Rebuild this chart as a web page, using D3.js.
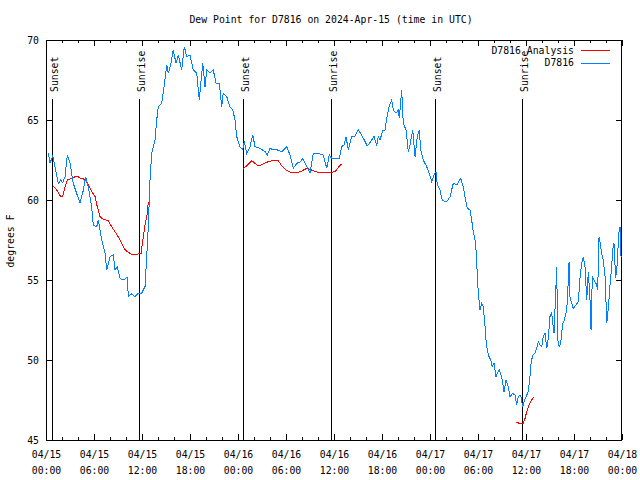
<!DOCTYPE html>
<html>
<head>
<meta charset="utf-8">
<script src="https://cdn.jsdelivr.net/npm/d3@7"></script>
<style>
  html, body { margin: 0; padding: 0; background: #fff; }
  svg { display: block; }
  text { font-family: "DejaVu Sans Mono", "Liberation Mono", monospace; font-size: 11px; fill: #000; }
</style>
</head>
<body>
<svg id="chart" width="640" height="480"></svg>
<script>
// ---------------- DATA ----------------
const titleText = "Dew Point for D7816 on 2024-Apr-15 (time in UTC)";
const yLabel = "degrees F";
const startUTC = Date.UTC(2024, 3, 15, 0, 0);   // 04/15 00:00 UTC
const spanHours = 72;
const yTicks = [45, 50, 55, 60, 65, 70];

// D7816 observations: hours since 04/15 00:00 UTC, dew point (F)
const blueHours = [0.29,0.5,0.84,1.13,1.54,1.84,2.09,2.38,2.66,3.0,3.41,3.84,4.25,4.66,4.96,5.29,5.71,5.91,6.34,6.54,6.96,7.38,7.59,8.0,8.41,8.63,8.91,9.25,9.66,10.16,10.29,10.71,11.13,11.54,11.96,12.38,12.59,12.79,13.0,13.21,13.63,13.84,14.04,14.46,14.75,15.09,15.29,15.59,15.91,16.25,16.54,16.96,17.29,17.59,18.0,18.41,18.84,19.16,19.59,19.88,20.09,20.5,20.91,21.25,21.66,21.96,22.16,22.59,23.0,23.34,23.63,23.84,24.25,24.59,24.79,25.09,25.5,25.84,26.13,26.75,27.38,27.66,28.0,28.41,28.91,29.46,30.09,30.5,30.91,31.34,31.84,32.09,32.38,33.0,33.41,34.04,34.66,35.09,35.41,35.71,35.91,36.66,36.96,37.25,37.5,37.79,38.21,38.63,39.04,39.46,39.88,40.16,40.59,41.0,41.34,41.54,41.75,42.09,42.38,42.59,42.88,43.21,43.41,43.75,44.04,44.16,44.46,44.66,45.0,45.29,45.5,45.84,46.13,46.41,46.66,46.84,47.16,47.59,47.91,48.21,48.5,48.75,48.91,49.25,49.54,50.09,50.5,50.91,51.34,51.84,52.16,52.38,52.66,53.0,53.21,53.41,53.71,53.84,53.96,54.13,54.25,54.46,54.66,54.88,55.0,55.16,55.38,55.59,55.79,56.0,56.25,56.41,56.66,56.96,57.25,57.5,57.79,58.0,58.34,58.63,58.84,59.04,59.34,59.59,59.75,60.0,60.29,60.5,60.63,60.84,61.13,61.34,61.54,61.75,61.96,62.16,62.38,62.59,62.79,63.0,63.21,63.5,63.75,63.84,63.96,64.16,64.34,64.59,64.79,65.0,65.16,65.38,65.5,65.71,65.91,66.25,66.54,66.75,66.96,67.16,67.38,67.59,67.79,68.0,68.13,68.29,68.5,68.75,68.96,69.13,69.25,69.46,69.66,69.88,70.0,70.09,70.29,70.5,70.71,70.84,71.0,71.21,71.41,71.59,71.75,71.88];
const blueValues = [62.92,62.3,62.75,62.08,61.04,61.25,61.08,61.46,62.8,62.3,61.04,60.4,59.8,60.6,61.46,60.83,59.58,58.44,58.33,58.75,57.5,56.67,55.63,56.46,56.56,55.63,55.83,55.1,55.0,55.17,53.96,54.13,53.96,54.17,54.17,54.6,56.46,58.33,61.25,62.9,63.75,65.0,65.83,66.04,67.08,68.44,67.92,68.44,69.38,68.54,69.06,68.13,69.58,68.96,69.06,68.13,67.92,66.25,68.54,67.08,68.13,67.92,68.13,67.3,67.3,65.83,66.67,66.46,65.83,65.63,65.0,63.96,63.33,63.13,63.65,62.92,63.33,64.06,63.33,63.23,63.02,62.81,63.23,63.13,63.13,63.02,63.33,62.81,61.98,62.29,62.4,62.6,62.29,61.67,62.92,62.92,62.81,61.98,62.81,62.6,62.6,62.6,63.33,63.44,63.96,63.13,63.96,64.0,64.38,64.06,63.65,63.38,63.65,64.0,63.38,63.96,63.75,64.33,64.38,65.1,65.83,66.25,65.63,65.42,65.63,65.1,66.88,64.79,64.38,63.02,63.44,64.38,62.71,63.96,64.38,63.13,62.5,62.08,61.67,61.15,61.56,61.77,60.94,60.63,59.96,59.9,60.2,61.04,60.94,61.35,60.83,60.2,59.48,59.38,58.75,58.02,57.29,56.04,54.79,53.75,53.13,53.54,53.33,52.08,51.25,50.63,50.21,50.0,49.58,49.79,48.96,49.17,49.38,48.96,48.02,48.75,48.33,47.71,47.92,47.81,47.19,47.71,47.81,47.08,47.4,47.71,48.02,48.96,49.79,50.31,50.42,50.73,51.15,50.94,50.83,51.46,51.67,50.73,51.35,52.71,52.92,51.67,54.69,55.83,51.25,50.83,51.04,52.29,52.5,52.92,53.54,56.1,53.96,53.54,53.23,53.44,53.65,55.1,56.04,56.46,55.83,53.75,55.52,53.75,51.88,55.21,55.0,54.79,54.38,57.71,57.4,56.67,56.25,55.21,53.65,52.29,53.23,54.69,55.83,56.88,57.29,55.1,56.04,57.92,58.33,56.46];

// D7816 Analysis: hours since 04/15 00:00 UTC, dew point (F); null = gap
const redHours = [0.84,1.34,1.84,2.09,2.38,2.66,3.21,3.84,4.34,4.88,5.29,5.71,6.13,6.41,6.75,7.16,7.79,8.21,8.75,9.25,9.75,10.16,10.71,11.34,11.88,12.16,12.38,12.66,12.79,
  18.0,
  24.66,25.09,25.71,26.13,26.54,27.16,27.79,28.63,29.04,29.46,30.0,30.71,31.34,31.96,32.59,33.0,33.63,34.46,35.5,36.13,36.54,36.96,
  48.0,
  58.75,59.25,59.66,59.88,60.09,60.29,60.59,60.91];
const redValues = [60.88,60.63,60.21,60.25,60.83,61.25,61.35,61.5,61.35,61.29,60.94,60.52,60.21,59.58,58.96,58.79,58.71,58.33,57.92,57.5,56.98,56.77,56.6,56.6,56.67,57.71,58.44,59.17,59.9,
  null,
  61.98,62.13,62.46,62.29,62.13,62.25,62.4,62.5,62.46,62.13,61.88,61.71,61.71,61.81,61.98,61.92,61.77,61.71,61.71,61.77,62.04,62.25,
  null,
  46.1,46.04,46.04,46.35,46.77,47.08,47.4,47.67];

// Sunset / sunrise markers
const eventHours = [0.79, 11.66, 24.66, 35.66, 48.66, 59.54];
const eventLabels = ["Sunset", "Sunrise", "Sunset", "Sunrise", "Sunset", "Sunrise"];

const seriesNames = ["D7816 Analysis", "D7816"];
const seriesColors = ["#ff0000", "#0080ff"];

// ---------------- CHART ----------------
const svg = d3.select("#chart");
const toDate = h => new Date(startUTC + h * 3600e3);
const L = 46, R = 622, T = 40, B = 440;
const CW = 5.9; // monospace character width used by the original

const x = d3.scaleUtc().domain([toDate(0), toDate(spanHours)]).range([L, R]);
const y = d3.scaleLinear().domain([45, 70]).range([B, T]);

function fit(sel) {
  sel.each(function() {
    const t = d3.select(this).text();
    d3.select(this).attr("textLength", t.length * CW).attr("lengthAdjust", "spacingAndGlyphs");
  });
  return sel;
}

// title
fit(svg.append("text").attr("x", 331).attr("y", 23).attr("text-anchor", "middle").text(titleText));

// y label
fit(svg.append("text").attr("transform", "translate(14,241) rotate(-90)")
  .attr("text-anchor", "middle").text(yLabel));

// axes
const sixH = d3.utcHour.every(6), twoH = d3.utcHour.every(2);

const gBotMinor = svg.append("g").attr("transform", `translate(0,${B})`)
  .call(d3.axisBottom(x).ticks(twoH).tickSizeInner(-3).tickSizeOuter(0).tickFormat(""));
const gTopMinor = svg.append("g").attr("transform", `translate(0,${T})`)
  .call(d3.axisTop(x).ticks(twoH).tickSizeInner(-3).tickSizeOuter(0).tickFormat(""));
const gBot = svg.append("g").attr("transform", `translate(0,${B})`)
  .call(d3.axisBottom(x).ticks(sixH).tickSizeInner(-6).tickSizeOuter(0).tickFormat(""));
const gTop = svg.append("g").attr("transform", `translate(0,${T})`)
  .call(d3.axisTop(x).ticks(sixH).tickSizeInner(-6).tickSizeOuter(0).tickFormat(""));
const gLeft = svg.append("g").attr("transform", `translate(${L},0)`)
  .call(d3.axisLeft(y).tickValues(yTicks).tickSizeInner(-6).tickSizeOuter(0).tickPadding(7).tickFormat(d3.format("d")));
const gRight = svg.append("g").attr("transform", `translate(${R},0)`)
  .call(d3.axisRight(y).tickValues(yTicks).tickSizeInner(-6).tickSizeOuter(0).tickFormat(""));

[gBotMinor, gTopMinor, gBot, gTop, gLeft, gRight].forEach(g => {
  g.select(".domain").remove();
  g.selectAll("line").attr("stroke", "#000").attr("shape-rendering", "crispEdges");
  g.selectAll("text").attr("font-family", null).attr("font-size", null);
});
gLeft.selectAll(".tick text").attr("fill", "#000").call(fit);

// two-line bottom tick labels
const fmtD = d3.utcFormat("%m/%d"), fmtT = d3.utcFormat("%H:%M");
gBot.selectAll(".tick").each(function(d) {
  const g = d3.select(this);
  g.select("text").remove();
  fit(g.append("text").attr("y", 18).attr("text-anchor", "middle").text(fmtD(d)));
  fit(g.append("text").attr("y", 34).attr("text-anchor", "middle").text(fmtT(d)));
});

// border
svg.append("rect").attr("x", L + 0.5).attr("y", T + 0.5).attr("width", R - L - 1).attr("height", B - T)
  .attr("fill", "none").attr("stroke", "#000").attr("stroke-width", 1).attr("shape-rendering", "crispEdges");

// sunrise / sunset markers
const ev = svg.append("g");
eventHours.forEach((h, i) => {
  const xp = Math.round(x(toDate(h))) + 0.5;
  ev.append("line").attr("x1", xp).attr("x2", xp).attr("y1", 99).attr("y2", B)
    .attr("stroke", "#000").attr("stroke-width", 1).attr("shape-rendering", "crispEdges");
  fit(ev.append("text").attr("transform", `translate(${xp + 5},92) rotate(-90)`)
    .attr("text-anchor", "start").text(eventLabels[i]));
});

// series
const blue = blueHours.map((h, i) => ({ t: toDate(h), v: blueValues[i] }));
const red = redHours.map((h, i) => ({ t: toDate(h), v: redValues[i] }));
const line = d3.line().defined(d => d.v != null).x(d => x(d.t)).y(d => y(d.v));

svg.append("path").datum(red).attr("d", line).attr("fill", "none")
  .attr("stroke", seriesColors[0]).attr("stroke-width", 1).attr("shape-rendering", "crispEdges");
svg.append("path").datum(blue).attr("d", line).attr("fill", "none")
  .attr("stroke", seriesColors[1]).attr("stroke-width", 1).attr("shape-rendering", "crispEdges");

// legend
const lg = svg.append("g");
seriesNames.forEach((name, i) => {
  const yy = 50 + i * 12.7;
  fit(lg.append("text").attr("x", 574).attr("y", yy + 3.7).attr("text-anchor", "end").text(name));
  lg.append("line").attr("x1", 581).attr("x2", 610).attr("y1", Math.round(yy) + 0.5).attr("y2", Math.round(yy) + 0.5)
    .attr("stroke", seriesColors[i]).attr("stroke-width", 1);
});
</script>
</body>
</html>
